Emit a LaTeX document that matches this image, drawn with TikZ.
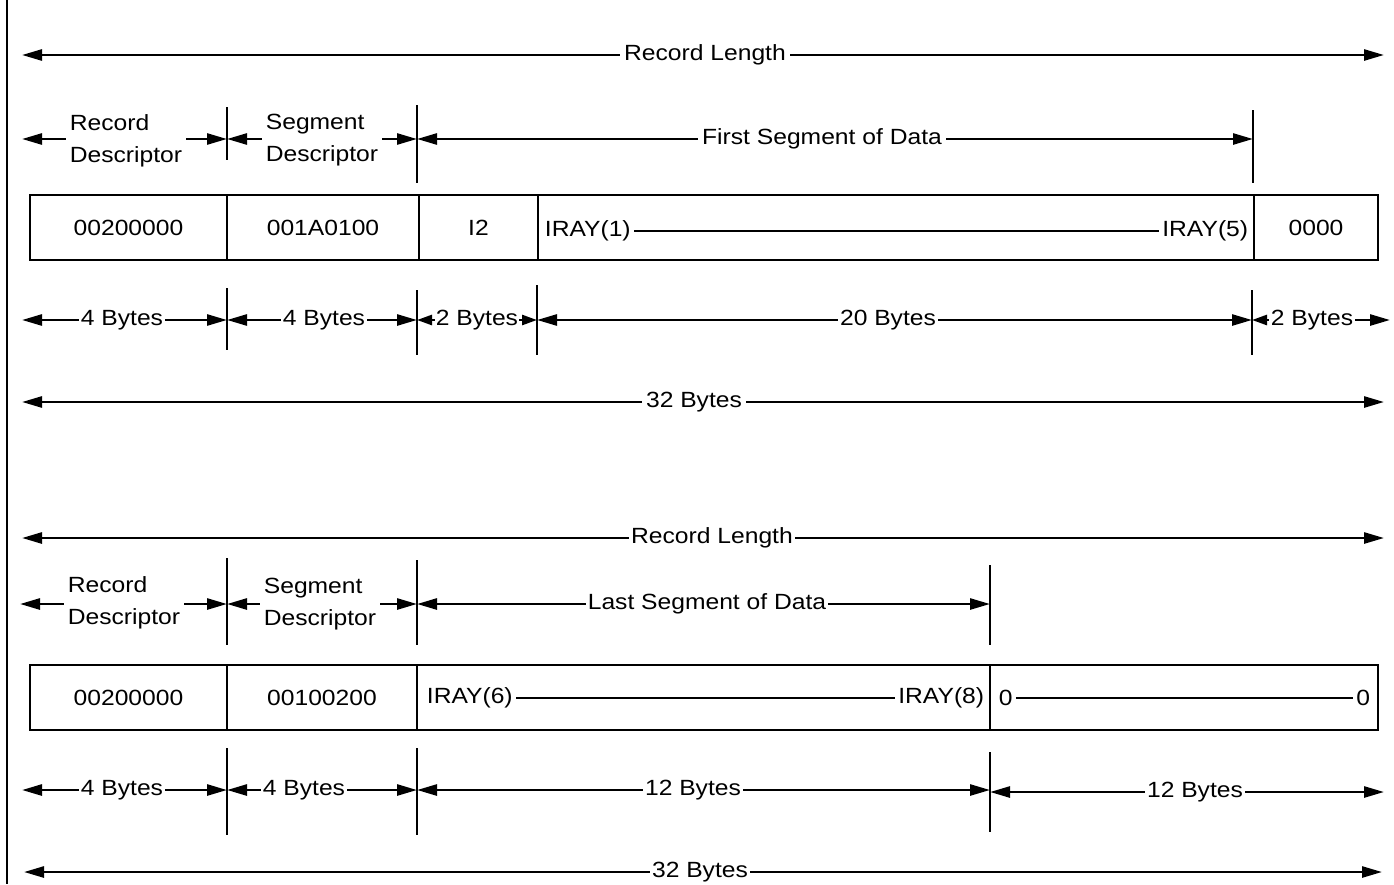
\documentclass[tikz,border=0pt]{standalone}
\usepackage{fontspec}
\setmainfont{Liberation Sans}[FakeStretch=1.12]
\usetikzlibrary{arrows.meta}
\begin{document}
\begin{tikzpicture}[x=1pt,y=-1pt,
  line width=2.6pt,
  dim/.style={-{Triangle[length=20pt,width=11pt]}},
  dimshort/.style={-{Triangle[length=15pt,width=10pt]}},
  lbl/.style={inner sep=3pt,font=\fontsize{22}{32}\selectfont},
  two/.style={lbl,align=left},
  cell/.style={draw,line width=2.8pt,minimum height=65pt,inner sep=0pt,font=\fontsize{22}{25}\selectfont},
  txt/.style={inner sep=2pt,font=\fontsize{22}{25}\selectfont},
]
\useasboundingbox (0,0) rectangle (1394,884);
% left rule
\draw (7,0) -- (7,884);

% ===== Top record =====
\node[lbl] (rl1) at (705,55) {Record Length};
\coordinate (rl1L) at (22,55); \coordinate (rl1R) at (1384,55);
\draw[dim] (rl1.west |- rl1L) -- (rl1L);
\draw[dim] (rl1.east |- rl1R) -- (rl1R);

\coordinate (ta1) at (227,139); \coordinate (ta2) at (417,139); \coordinate (ta3) at (1253,139);
\coordinate (ta0) at (22,139);
\draw (227,107) -- (227,160);
\draw (417,105) -- (417,183);
\draw (1253,110) -- (1253,183);
\node[two] (rd1) at (126,141) {Record\\Descriptor};
\node[two] (sd1) at (322,140) {Segment\\Descriptor};
\node[lbl] (fs1) at (822,139) {First Segment of Data};
\draw[dim] (rd1.west |- ta0) -- (ta0);
\draw[dim] (rd1.east |- ta1) -- (ta1);
\draw[dim] (sd1.west |- ta1) -- (ta1);
\draw[dim] (sd1.east |- ta2) -- (ta2);
\draw[dim] (fs1.west |- ta2) -- (ta2);
\draw[dim] (fs1.east |- ta3) -- (ta3);

% box 1
\node[cell,minimum width=197pt] (a1) at (128.5,227.5) {00200000};
\node[cell,minimum width=192pt] (a2) at (323,227.5) {001A0100};
\node[cell,minimum width=119pt] (a3) at (478.5,227.5) {I2};
\node[cell,minimum width=716pt] (a4) at (896,227.5) {};
\node[cell,minimum width=124pt] (a5) at (1316,227.5) {0000};
\node[txt,anchor=west] (i1) at ([xshift=5pt,yshift=-3pt]a4.west) {IRAY(1)};
\node[txt,anchor=east] (i5) at ([xshift=-4pt,yshift=-3pt]a4.east) {IRAY(5)};
\draw[line width=2pt] (i1.east) -- (i5.west);

% bytes row
\coordinate (tb0) at (22,320); \coordinate (tb1) at (227,320); \coordinate (tb2) at (417,320);
\coordinate (tb3) at (537,320); \coordinate (tb4) at (1252,320); \coordinate (tb5) at (1390,320);
\draw (227,288) -- (227,350);
\draw (417,290) -- (417,355);
\draw (537,285) -- (537,355);
\draw (1252,290) -- (1252,355);
\node[lbl,inner sep=1pt] (b1) at (122,320) {4 Bytes};
\node[lbl,inner sep=1pt] (b2) at (324,320) {4 Bytes};
\node[lbl,inner sep=0pt] (b3) at (477,320) {2 Bytes};
\node[lbl,inner sep=1pt] (b4) at (888,320) {20 Bytes};
\node[lbl,inner sep=1pt] (b5) at (1312,320) {2 Bytes};
\draw[dim] (b1.west |- tb0) -- (tb0); \draw[dim] (b1.east |- tb1) -- (tb1);
\draw[dim] (b2.west |- tb1) -- (tb1); \draw[dim] (b2.east |- tb2) -- (tb2);
\draw[dimshort] (b3.west |- tb2) -- (tb2); \draw[dimshort] (b3.east |- tb3) -- (tb3);
\draw[dim] (b4.west |- tb3) -- (tb3); \draw[dim] (b4.east |- tb4) -- (tb4);
\draw[dimshort] (b5.west |- tb4) -- (tb4); \draw[dim] (b5.east |- tb5) -- (tb5);

\node[lbl] (t32a) at (694,402) {32 Bytes};
\coordinate (t32L) at (22,402); \coordinate (t32R) at (1384,402);
\draw[dim] (t32a.west |- t32L) -- (t32L);
\draw[dim] (t32a.east |- t32R) -- (t32R);

% ===== Bottom record =====
\node[lbl,inner sep=1pt] (rl2) at (712,538) {Record Length};
\coordinate (rl2L) at (22,538); \coordinate (rl2R) at (1384,538);
\draw[dim] (rl2.west |- rl2L) -- (rl2L);
\draw[dim] (rl2.east |- rl2R) -- (rl2R);

\coordinate (ua0) at (20,604); \coordinate (ua1) at (227,604); \coordinate (ua2) at (417,604); \coordinate (ua3) at (990,604);
\draw (227,558) -- (227,645);
\draw (417,560) -- (417,645);
\draw (990,565) -- (990,645);
\node[two] (rd2) at (124,603) {Record\\Descriptor};
\node[two] (sd2) at (320,604) {Segment\\Descriptor};
\node[lbl,inner sep=1pt] (ls2) at (707,604) {Last Segment of Data};
\draw[dim] (rd2.west |- ua0) -- (ua0);
\draw[dim] (rd2.east |- ua1) -- (ua1);
\draw[dim] (sd2.west |- ua1) -- (ua1);
\draw[dim] (sd2.east |- ua2) -- (ua2);
\draw[dim] (ls2.west |- ua2) -- (ua2);
\draw[dim] (ls2.east |- ua3) -- (ua3);

% box 2
\node[cell,minimum width=197pt] (d1) at (128.5,697.5) {00200000};
\node[cell,minimum width=190pt] (d2) at (322,697.5) {00100200};
\node[cell,minimum width=573pt] (d3) at (703.5,697.5) {};
\node[cell,minimum width=388pt] (d4) at (1184,697.5) {};
\node[txt,anchor=west] (i6) at ([xshift=8pt]d3.west) {IRAY(6)};
\node[txt,anchor=east] (i8) at ([xshift=-4pt]d3.east) {IRAY(8)};
\draw[line width=2pt] (i6.east) -- (i8.west);
\node[txt,anchor=west] (z1) at ([xshift=7pt]d4.west) {0};
\node[txt,anchor=east] (z2) at ([xshift=-6pt]d4.east) {0};
\draw[line width=2pt] (z1.east) -- (z2.west);

% bytes row
\coordinate (ub0) at (22,790); \coordinate (ub1) at (227,790); \coordinate (ub2) at (417,790);
\coordinate (ub3) at (990,790); \coordinate (ub4) at (1384,792);
\draw (227,748) -- (227,835);
\draw (417,748) -- (417,835);
\draw (990,752) -- (990,832);
\node[lbl,inner sep=1pt] (e1) at (122,790) {4 Bytes};
\node[lbl,inner sep=1pt] (e2) at (304,790) {4 Bytes};
\node[lbl,inner sep=1pt] (e3) at (693,790) {12 Bytes};
\node[lbl,inner sep=1pt] (e4) at (1195,792) {12 Bytes};
\draw[dim] (e1.west |- ub0) -- (ub0); \draw[dim] (e1.east |- ub1) -- (ub1);
\draw[dim] (e2.west |- ub1) -- (ub1); \draw[dim] (e2.east |- ub2) -- (ub2);
\draw[dim] (e3.west |- ub2) -- (ub2); \draw[dim] (e3.east |- ub3) -- (ub3);
\draw[dim] (e4.west |- ub4) -- (ub3 |- ub4); \draw[dim] (e4.east |- ub4) -- (ub4);

\node[lbl,inner sep=1pt] (t32b) at (700,872) {32 Bytes};
\coordinate (u32L) at (24,872); \coordinate (u32R) at (1382,872);
\draw[dim] (t32b.west |- u32L) -- (u32L);
\draw[dim] (t32b.east |- u32R) -- (u32R);
\end{tikzpicture}
\end{document}
